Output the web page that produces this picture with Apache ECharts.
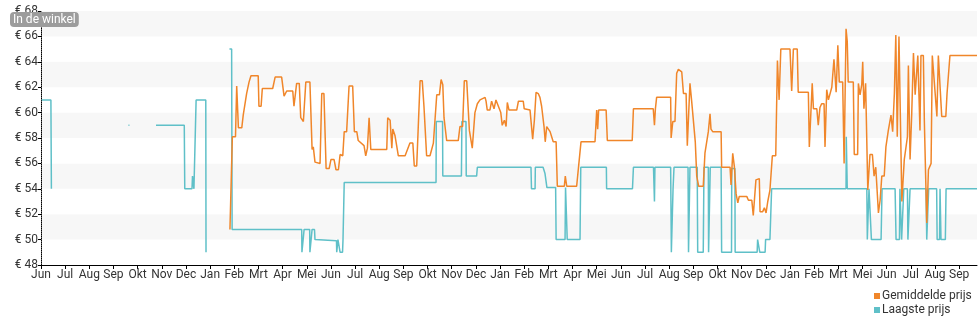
<!DOCTYPE html>
<html>
<head>
<meta charset="utf-8">
<script src="https://cdn.jsdelivr.net/npm/echarts@6/dist/echarts.min.js"></script>
<style>
html,body{margin:0;padding:0;background:#fff;}
#chart{width:980px;height:325px;}
</style>
</head>
<body>
<div id="chart"></div>
<script>
// Month tick labels (one per tick, x unit = one tick step)
const monthLabels = ['Jun','Jul','Aug','Sep','Okt','Nov','Dec','Jan','Feb','Mrt','Apr','Mei',
  'Jun','Jul','Aug','Sep','Okt','Nov','Dec','Jan','Feb','Mrt','Apr','Mei',
  'Jun','Jul','Aug','Sep','Okt','Nov','Dec','Jan','Feb','Mrt','Mei','Jun','Jul','Aug','Sep'];

// Price ticks
const priceMin = 48, priceMax = 68, priceStep = 2;

// Laagste prijs: [month position, price in euro] (null = no data)
const laagstePrijs = [
  [0.03,61],[0.41,61],[0.43,54],[1.5,null],
  [3.62,59],[3.66,59],[4.2,null],
  [4.76,59],[5.93,59],[5.95,54],[6.25,54],[6.27,55],[6.31,55],[6.33,54],[6.40,54],[6.42,61],[6.82,61],[6.83,49],[7.3,null],
  [7.80,65],[7.89,65],[7.91,50.8],[10.79,50.8],[10.80,49],[10.87,49],[10.89,50.8],[11.12,50.8],[11.13,49],[11.20,49],
  [11.22,50.8],[11.32,50.8],[11.34,50],[12.23,49.9],[12.24,49],[12.28,49],[12.29,50],[12.36,50],[12.38,49],[12.48,49],
  [12.50,50],[12.54,50],[12.55,54.5],[16.35,54.5],[16.36,59.3],[16.62,59.3],[16.63,55],[17.40,55],[17.42,59.3],[17.59,59.3],
  [17.60,55],[18.03,55],[18.06,55.7],[20.28,55.7],[20.30,54],[20.45,54],[20.46,55.7],[20.78,55.7],[20.86,55.2],[20.92,55.2],
  [20.94,54.1],[21.30,54.1],[21.32,50],[21.69,50],[21.71,54.1],[21.77,54.1],[21.78,50],[22.31,50],[22.34,55.7],[23.40,55.7],
  [23.41,54],[24.48,54],[24.52,55.7],[25.35,55.7],[25.39,53],[25.41,55.7],[26.06,55.7],[26.09,49],[26.14,49],[26.16,54],
  [26.20,55.7],[26.78,55.7],[26.80,49],[26.84,49],[26.86,55.7],[27.16,55.7],[27.18,49],[27.41,49],[27.44,55.7],[27.62,55.7],
  [27.63,49],[27.67,49],[27.70,55.7],[28.15,55.7],[28.17,49],[28.58,49],[28.59,55.6],[28.72,55.6],[28.73,49],[29.64,49],
  [29.66,50],[29.73,50],[29.75,49],[29.97,49],[29.99,50],[30.17,50],[30.24,54],[33.32,54],[33.33,58.1],[33.35,58.1],
  [33.37,54],[34.18,54],[34.20,50],[34.27,54],[34.33,54],[34.37,50],[34.77,50],[34.81,54],[35.35,54],[35.39,50],
  [35.53,50],[35.55,54],[35.60,54],[35.62,50],[35.69,50],[35.71,54],[35.86,54],[35.88,50],[35.95,50],[35.97,54],
  [36.63,54],[36.66,50],[36.71,50],[36.74,54],[37.07,54],[37.09,50],[37.19,50],[37.21,54],[37.24,54],[37.25,50],
  [37.43,50],[37.46,54],[38.74,54]
];

// Gemiddelde prijs: [month position, price in euro]
const gemiddeldePrijs = [
  [7.82,50.8],[7.92,58.1],[8.05,58.1],[8.10,62.1],[8.17,58.8],[8.31,58.8],[8.37,59.8],[8.44,59.8],[8.51,61.5],[8.61,62.4],
  [8.69,62.9],[8.99,62.9],[9.02,60.5],[9.11,60.5],[9.16,61.9],[9.59,61.9],[9.69,62.8],[9.96,62.8],[10.06,61.3],[10.17,61.7],
  [10.42,61.7],[10.47,60.5],[10.58,62.3],[10.69,62.3],[10.75,59.6],[10.86,59.3],[10.96,62.4],[11.13,62.4],[11.22,57.1],[11.27,57.3],
  [11.34,56.1],[11.55,56.0],[11.62,61.5],[11.71,61.5],[11.80,55.6],[11.93,55.6],[12.00,56.3],[12.13,56.3],[12.21,55.5],[12.31,55.5],
  [12.38,56.7],[12.49,56.6],[12.55,58.5],[12.65,58.5],[12.75,62.1],[12.90,62.1],[12.97,58.5],[13.07,58.5],[13.13,57.8],[13.37,57.4],
  [13.44,56.6],[13.51,57.2],[13.58,59.6],[13.65,57.1],[14.31,57.1],[14.35,59.6],[14.45,59.4],[14.52,57.2],[14.56,58.7],[14.65,58.2],
  [14.79,56.6],[15.07,56.6],[15.27,57.6],[15.39,57.6],[15.45,55.8],[15.55,55.8],[15.69,62.5],[15.78,62.5],[15.85,60.5],[15.96,56.6],
  [16.10,56.6],[16.24,57.6],[16.38,61.4],[16.49,61.4],[16.56,62.6],[16.63,62.2],[16.68,59.6],[16.79,57.8],[17.27,57.8],[17.34,58.9],
  [17.45,58.9],[17.52,62.5],[17.62,62.5],[17.73,58.6],[17.85,57.2],[17.96,60.0],[18.06,60.7],[18.17,61.0],[18.38,61.2],[18.42,60.9],
  [18.47,60.2],[18.58,60.2],[18.65,60.9],[18.75,60.3],[18.83,61.0],[18.93,60.5],[19.03,60.0],[19.09,59.0],[19.18,59.4],[19.25,58.9],
  [19.30,60.8],[19.37,60.2],[19.69,60.2],[19.76,60.9],[19.96,60.9],[20.00,60.3],[20.24,60.2],[20.35,57.9],[20.42,59.4],[20.49,61.6],
  [20.58,61.5],[20.65,61.2],[20.72,60.5],[20.82,58.9],[20.87,57.7],[20.93,58.9],[21.07,58.5],[21.20,57.7],[21.32,57.7],[21.37,54.2],
  [21.66,54.2],[21.70,55.0],[21.76,54.2],[22.17,54.2],[22.35,57.7],[22.93,57.7],[23.00,60.2],[23.04,58.7],[23.08,60.2],[23.39,60.2],
  [23.44,57.8],[24.47,57.8],[24.52,60.3],[25.34,60.3],[25.39,59.0],[25.43,60.3],[25.48,61.2],[26.06,61.2],[26.08,58.0],[26.15,59.3],
  [26.24,59.3],[26.31,63.1],[26.38,63.4],[26.52,63.2],[26.59,61.5],[26.70,61.5],[26.75,57.4],[26.86,62.3],[26.93,60.9],[27.00,60.9],
  [27.08,57.7],[27.14,55.0],[27.22,54.2],[27.41,54.2],[27.48,56.8],[27.55,56.8],[27.62,58.5],[27.69,59.9],[27.73,58.7],[27.80,58.5],
  [28.15,58.5],[28.17,55.7],[28.52,55.7],[28.56,54.3],[28.63,56.8],[28.70,55.7],[28.77,53.6],[28.84,52.9],[28.90,53.4],[29.21,53.4],
  [29.28,53.1],[29.42,53.1],[29.48,51.9],[29.55,51.9],[29.59,54.7],[29.65,54.8],[29.73,54.8],[29.76,52.2],[29.87,52.2],[29.94,52.5],
  [30.01,52.1],[30.08,53.0],[30.17,53.9],[30.27,56.6],[30.41,56.6],[30.48,64.1],[30.55,61.0],[30.62,65.0],[31.00,65.0],[31.07,61.7],
  [31.14,65.0],[31.30,65.0],[31.34,61.6],[31.76,61.6],[31.80,57.3],[31.92,62.3],[31.97,60.3],[32.11,60.3],[32.17,59.0],[32.24,60.4],
  [32.31,60.7],[32.41,60.7],[32.45,57.3],[32.52,61.8],[32.59,61.0],[32.73,62.0],[32.82,64.2],[32.91,61.6],[32.98,65.3],[33.04,62.4],
  [33.18,62.4],[33.24,56.0],[33.32,66.6],[33.37,65.6],[33.41,62.4],[33.62,62.4],[33.66,56.7],[33.80,56.7],[33.83,62.3],[33.90,61.4],
  [33.97,62.2],[34.01,64.0],[34.06,60.3],[34.13,62.3],[34.22,53.9],[34.31,56.7],[34.41,56.7],[34.48,55.0],[34.55,55.7],[34.66,52.1],
  [34.73,53.1],[34.80,55.0],[34.90,55.0],[34.97,57.3],[35.07,58.6],[35.18,59.8],[35.25,58.5],[35.32,61.5],[35.38,66.1],[35.44,58.1],
  [35.51,66.0],[35.63,53.0],[35.73,56.3],[35.86,58.1],[35.90,63.7],[35.97,56.3],[36.04,60.0],[36.11,64.7],[36.18,61.4],[36.29,64.5],
  [36.38,58.6],[36.42,64.5],[36.52,64.5],[36.56,59.4],[36.66,51.3],[36.73,55.5],[36.84,56.0],[36.89,64.5],[36.97,64.5],[37.08,59.7],
  [37.14,64.5],[37.21,64.5],[37.28,59.7],[37.45,59.7],[37.50,61.5],[37.56,61.5],[37.62,64.5],[38.74,64.5]
];

const xMax = 38.74;
const colorGem = '#f0862a';
const colorLaag = '#5fc0c8';

const chart = echarts.init(document.getElementById('chart'), null, {renderer: 'canvas'});
chart.setOption({
  animation: false,
  textStyle: {fontFamily: 'Roboto, sans-serif'},
  grid: {left: 41, right: 3, top: 11, bottom: 60, containLabel: false},
  title: {
    text: 'In de winkel', left: 10, top: 12, padding: [1, 3, 0, 3],
    backgroundColor: '#9c9c9c', borderRadius: 4, z: 10,
    textStyle: {color: '#fff', fontSize: 12, fontWeight: 'normal', fontFamily: 'Roboto, sans-serif', lineHeight: 14}
  },
  xAxis: {
    type: 'value', min: 0, max: xMax, interval: 1,
    axisLine: {show: true, lineStyle: {color: '#000', width: 1}},
    axisTick: {show: true, length: 4, lineStyle: {color: '#000'}},
    axisLabel: {
      color: '#333', fontSize: 12, margin: 4, showMaxLabel: false,
      formatter: v => (Math.abs(v - Math.round(v)) < 1e-6 && monthLabels[Math.round(v)]) || ''
    },
    splitLine: {show: false}
  },
  yAxis: {
    type: 'value', min: priceMin, max: priceMax, interval: priceStep,
    axisLine: {show: true, lineStyle: {color: '#000', type: 'dotted', width: 1}},
    axisTick: {show: true, length: 3, lineStyle: {color: '#000'}},
    axisLabel: {color: '#333', fontSize: 12, margin: 3, formatter: v => '€ ' + v},
    splitLine: {show: false},
    splitArea: {show: true, areaStyle: {color: ['#ffffff', '#f7f7f7']}}
  },
  legend: {
    orient: 'vertical', left: 874, top: 290, height: 40, padding: 0,
    itemWidth: 6, itemHeight: 6, itemGap: 2, icon: 'rect',
    textStyle: {color: '#333', fontSize: 12, padding: [0, 0, 0, -3]},
    data: ['Gemiddelde prijs', 'Laagste prijs']
  },
  series: [
    {
      name: 'Laagste prijs', type: 'line', data: laagstePrijs, showSymbol: false, symbol: 'none',
      connectNulls: false, lineStyle: {color: colorLaag, width: 1.5}, itemStyle: {color: colorLaag}, z: 2
    },
    {
      name: 'Gemiddelde prijs', type: 'line', data: gemiddeldePrijs, showSymbol: false, symbol: 'none',
      lineStyle: {color: colorGem, width: 1.5}, itemStyle: {color: colorGem}, z: 3
    }
  ]
});
</script>
</body>
</html>
